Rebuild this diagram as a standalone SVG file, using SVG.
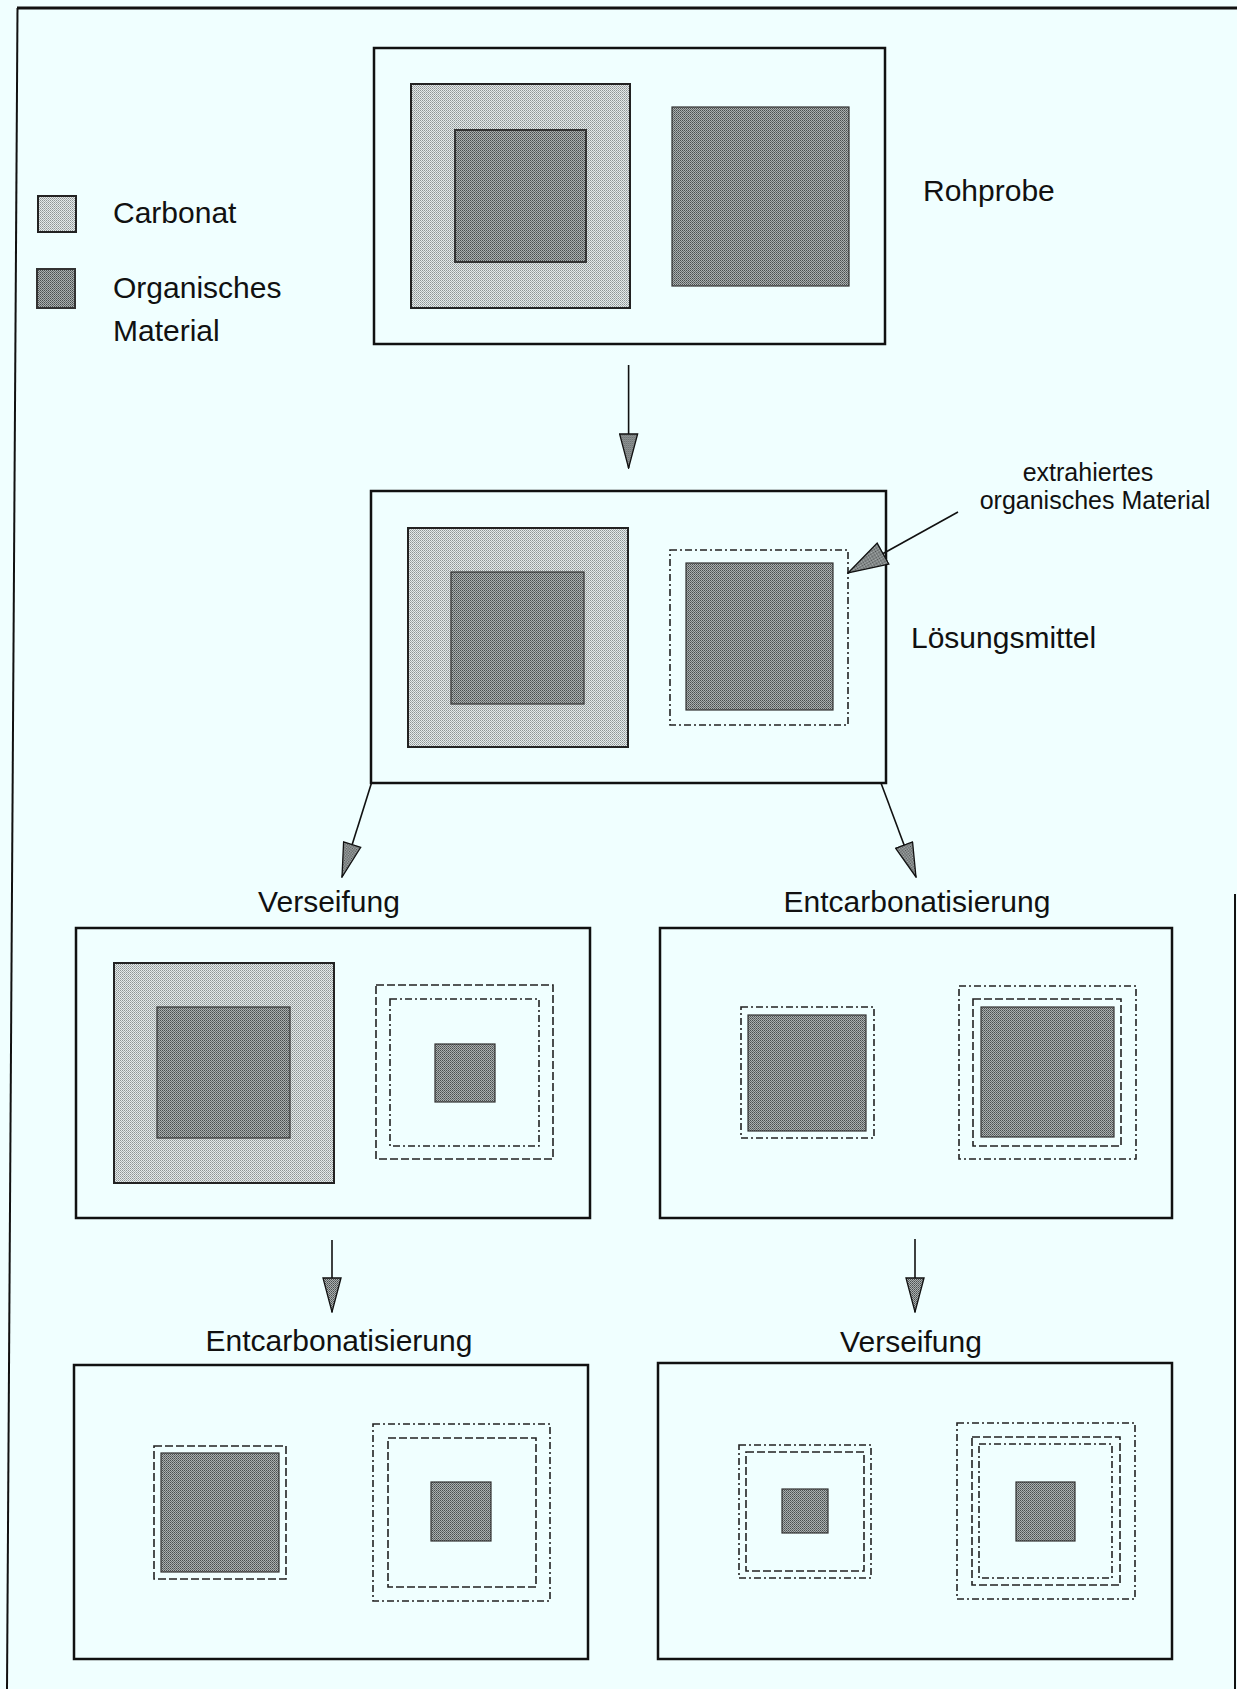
<svg xmlns="http://www.w3.org/2000/svg" width="1237" height="1689" viewBox="0 0 1237 1689">
  <defs>
    <pattern id="pCarb" width="2" height="2" patternUnits="userSpaceOnUse">
      <rect width="2" height="2" fill="#e4eaea"/>
      <rect width="1" height="1" fill="#8e9494"/>
      <rect x="1" y="1" width="1" height="1" fill="#a8aeae"/>
    </pattern>
    <pattern id="pOrg" width="2" height="2" patternUnits="userSpaceOnUse">
      <rect width="2" height="2" fill="#aab0b0"/>
      <rect width="1" height="1" fill="#4a4e4e"/>
      <rect x="1" y="1" width="1" height="1" fill="#666a6a"/>
    </pattern>
    <marker id="arr" viewBox="0 0 36 20" markerWidth="36" markerHeight="20" refX="35" refY="10" orient="auto" markerUnits="userSpaceOnUse">
      <path d="M1,1 L35,10 L1,19 Z" fill="url(#pOrg)" stroke="#111" stroke-width="1.3"/>
    </marker>
    <marker id="arrBig" viewBox="0 0 42 26" markerWidth="42" markerHeight="26" refX="41" refY="13" orient="auto" markerUnits="userSpaceOnUse">
      <path d="M1,1 L41,13 L1,25 Z" fill="url(#pOrg)" stroke="#111" stroke-width="1.3"/>
    </marker>
    <style>
      .txt { font-family: "Liberation Sans", Arial, sans-serif; fill: #111; }
      .lbl { font-size: 30px; }
      .sm { font-size: 25px; }
      .box { fill: none; stroke: #111; stroke-width: 2.5; }
      .carb { fill: url(#pCarb); stroke: #222; stroke-width: 2; }
      .org { fill: url(#pOrg); stroke: #333; stroke-width: 1.2; }
      .dOut { fill: none; stroke: #222; stroke-width: 1.6; stroke-dasharray: 7 3 2 3; }
      .dIn { fill: none; stroke: #222; stroke-width: 1.6; stroke-dasharray: 8 3; }
      .conn { fill: none; stroke: #111; stroke-width: 1.6; marker-end: url(#arr); }
    </style>
  </defs>

  <rect width="1237" height="1689" fill="#f0ffff"/>

  <g id="frame" fill="none" stroke="#111">
    <line x1="17" y1="8" x2="1237" y2="8" stroke-width="3"/>
    <line x1="17.5" y1="8" x2="7" y2="1689" stroke-width="2"/>
    <line x1="1235" y1="894" x2="1235" y2="1689" stroke-width="2"/>
  </g>

  <g id="legend">
    <rect x="38" y="196" width="38" height="36" class="carb"/>
    <text x="113" y="223" class="txt lbl">Carbonat</text>
    <rect x="37" y="269" width="38" height="39" class="org" style="stroke-width:2"/>
    <text x="113" y="298" class="txt lbl">Organisches</text>
    <text x="113" y="341" class="txt lbl">Material</text>
  </g>

  <g id="rohprobe">
    <rect x="374" y="48" width="511" height="296" class="box"/>
    <rect x="411" y="84" width="219" height="224" class="carb"/>
    <rect x="455" y="130" width="131" height="132" class="org" style="stroke-width:2"/>
    <rect x="672" y="107" width="177" height="179" class="org"/>
    <text x="923" y="201" class="txt lbl">Rohprobe</text>
  </g>

  <g id="loesungsmittel">
    <rect x="371" y="491" width="515" height="292" class="box"/>
    <rect x="408" y="528" width="220" height="219" class="carb"/>
    <rect x="451" y="572" width="133" height="132" class="org"/>
    <rect x="670" y="550" width="178" height="175" class="dOut"/>
    <rect x="686" y="563" width="147" height="147" class="org"/>
    <text x="911" y="648" class="txt lbl">Lösungsmittel</text>
  </g>

  <g id="extrakt-label">
    <text x="1088" y="481" text-anchor="middle" class="txt sm">extrahiertes</text>
    <text x="1095" y="509" text-anchor="middle" class="txt sm">organisches Material</text>
  </g>

  <g id="verseifung-1">
    <text x="329" y="912" text-anchor="middle" class="txt lbl">Verseifung</text>
    <rect x="76" y="928" width="514" height="290" class="box"/>
    <rect x="114" y="963" width="220" height="220" class="carb"/>
    <rect x="157" y="1007" width="133" height="131" class="org"/>
    <rect x="376" y="985" width="177" height="174" class="dIn"/>
    <rect x="390" y="999" width="149" height="147" class="dOut"/>
    <rect x="435" y="1044" width="60" height="58" class="org"/>
  </g>

  <g id="entcarbonatisierung-1">
    <text x="917" y="912" text-anchor="middle" class="txt lbl">Entcarbonatisierung</text>
    <rect x="660" y="928" width="512" height="290" class="box"/>
    <rect x="741" y="1007" width="133" height="131" class="dOut"/>
    <rect x="748" y="1015" width="118" height="116" class="org"/>
    <rect x="959" y="986" width="177" height="173" class="dOut"/>
    <rect x="973" y="999" width="148" height="147" class="dIn"/>
    <rect x="981" y="1007" width="133" height="130" class="org"/>
  </g>

  <g id="entcarbonatisierung-2">
    <text x="339" y="1351" text-anchor="middle" class="txt lbl">Entcarbonatisierung</text>
    <rect x="74" y="1365" width="514" height="294" class="box"/>
    <rect x="154" y="1446" width="132" height="133" class="dIn"/>
    <rect x="161" y="1453" width="118" height="119" class="org"/>
    <rect x="373" y="1424" width="177" height="177" class="dOut"/>
    <rect x="388" y="1438" width="148" height="149" class="dIn"/>
    <rect x="431" y="1482" width="60" height="59" class="org"/>
  </g>

  <g id="verseifung-2">
    <text x="911" y="1352" text-anchor="middle" class="txt lbl">Verseifung</text>
    <rect x="658" y="1363" width="514" height="296" class="box"/>
    <rect x="739" y="1445" width="132" height="133" class="dOut"/>
    <rect x="746" y="1452" width="118" height="119" class="dIn"/>
    <rect x="782" y="1489" width="46" height="44" class="org"/>
    <rect x="957" y="1423" width="178" height="176" class="dOut"/>
    <rect x="972" y="1437" width="148" height="148" class="dIn"/>
    <rect x="979" y="1444" width="133" height="134" class="dOut"/>
    <rect x="1016" y="1482" width="59" height="59" class="org"/>
  </g>

  <g id="connectors">
    <line x1="628.6" y1="365" x2="628.6" y2="468" class="conn"/>
    <line x1="371.5" y1="783" x2="342" y2="877" class="conn"/>
    <line x1="881" y1="783" x2="916" y2="877" class="conn"/>
    <line x1="332" y1="1240" x2="332" y2="1312" class="conn"/>
    <line x1="915" y1="1239" x2="915" y2="1312" class="conn"/>
    <line x1="958" y1="512" x2="848" y2="573" class="conn" style="marker-end:url(#arrBig)"/>
  </g>
</svg>
